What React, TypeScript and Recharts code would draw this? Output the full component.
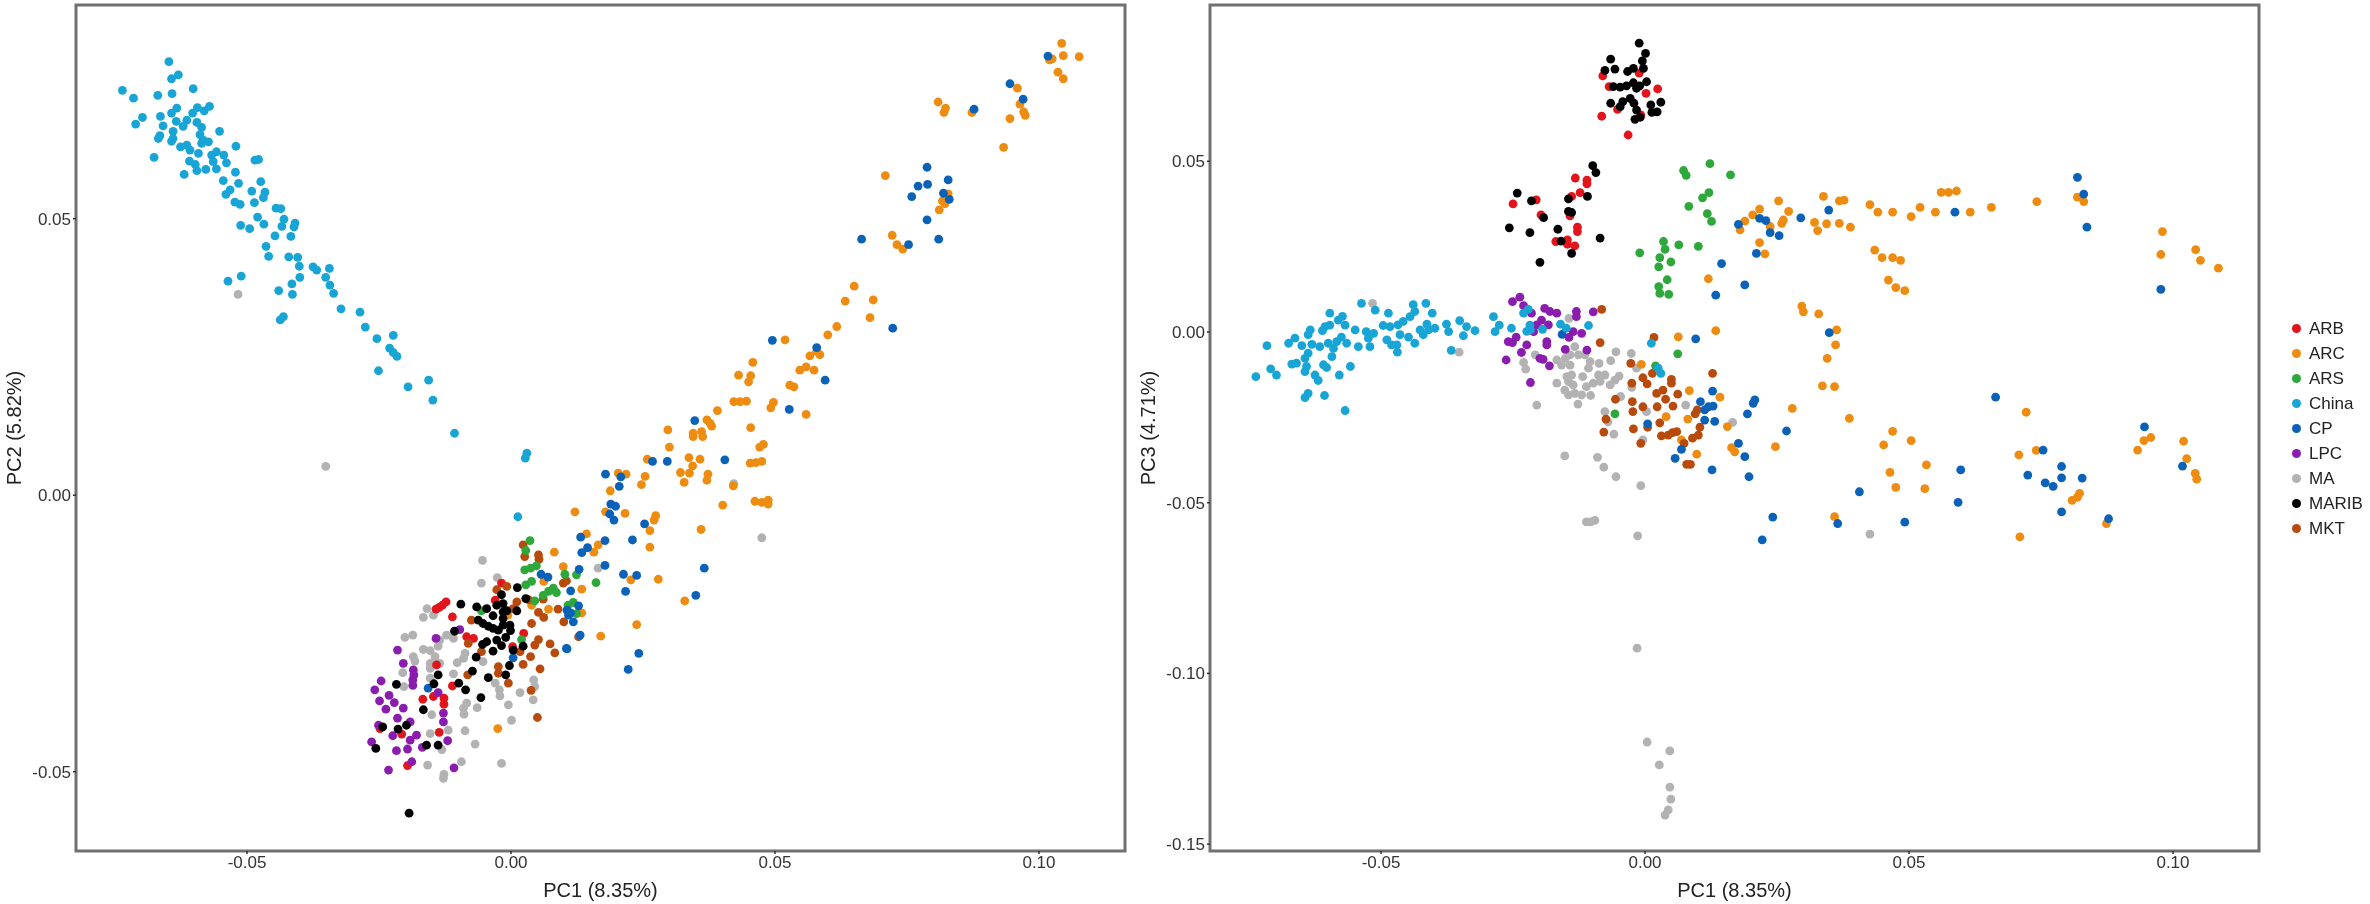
import React from 'react';
import { ScatterChart, Scatter, XAxis, YAxis, ReferenceArea, Legend } from 'recharts';

type P = [number, number];

const groupNames = ['ARB', 'ARC', 'ARS', 'China', 'CP', 'LPC', 'MA', 'MARIB', 'MKT'];
const groupColors: Record<string, string> = {
  ARB: '#e2141c', ARC: '#ee8c12', ARS: '#2ea83a', China: '#18a5d6', CP: '#0a62b8',
  LPC: '#8a1cae', MA: '#b2b2b2', MARIB: '#000000', MKT: '#b84a0c',
};
const drawOrder = ['MA', 'ARB', 'ARC', 'MKT', 'ARS', 'CP', 'LPC', 'China', 'MARIB'];

const xTicks = [-0.05, 0, 0.05, 0.1];
const yTicksLeft = [-0.05, 0, 0.05];
const yTicksRight = [-0.15, -0.1, -0.05, 0, 0.05];

// ---- PC1 vs PC2 ----
const a_China: P[] = [[-.0648,.0784],[-.0630,.0760],[-.0643,.0753],[-.0736,.0732],[-.0715,.0718],[-.0669,.0723],[-.0642,.0726],[-.0602,.0735],[-.0571,.0703],[-.0581,.0695],[-.0594,.0701],[-.0603,.0691],[-.0633,.0700],[-.0643,.0691],[-.0664,.0685],[-.0698,.0683],[-.0711,.0671],[-.0659,.0668],[-.0614,.0678],[-.0634,.0676],[-.0621,.0667],[-.0595,.0674],[-.0586,.0665],[-.0552,.0658],[-.0640,.0658],[-.0589,.0652],[-.0665,.0650],[-.0668,.0645],[-.0640,.0645],[-.0643,.0640],[-.0583,.0642],[-.0573,.0639],[-.0586,.0636],[-.0626,.0630],[-.0521,.0631],[-.0614,.0633],[-.0608,.0624],[-.0592,.0618],[-.0676,.0611],[-.0558,.0621],[-.0567,.0615],[-.0544,.0615],[-.0564,.0603],[-.0539,.0601],[-.0609,.0604],[-.0485,.0606],[-.0478,.0607],[-.0598,.0598],[-.0595,.0587],[-.0578,.0589],[-.0558,.0590],[-.0619,.0580],[-.0522,.0584],[-.0545,.0569],[-.0516,.0564],[-.0474,.0567],[-.0491,.0550],[-.0466,.0548],[-.0532,.0552],[-.0540,.0544],[-.0469,.0538],[-.0486,.0529],[-.0523,.0530],[-.0513,.0526],[-.0445,.0519],[-.0436,.0518],[-.0430,.0499],[-.0480,.0503],[-.0468,.0490],[-.0409,.0492],[-.0512,.0488],[-.0495,.0482],[-.0434,.0486],[-.0411,.0485],[-.0447,.0469],[-.0417,.0468],[-.0464,.0450],[-.0459,.0432],[-.0421,.0431],[-.0404,.0430],[-.0401,.0414],[-.0375,.0413],[-.0368,.0407],[-.0344,.0410],[-.0400,.0394],[-.0351,.0394],[-.0415,.0382],[-.0343,.0380],[-.0336,.0365],[-.0536,.0387],[-.0511,.0396],[-.0440,.0370],[-.0414,.0363],[-.0322,.0337],[-.0286,.0331],[-.0431,.0323],[-.0437,.0317],[-.0276,.0304],[-.0254,.0283],[-.0223,.0289],[-.0230,.0266],[-.0223,.0258],[-.0216,.0251],[-.0251,.0225],[-.0195,.0196],[-.0156,.0208],[-.0148,.0172],[-.0107,.0112],[.0013,-.0039],[.0030,.0076],[.0027,.0067]];
const a_ARC: P[] = [[.0585,.0254],[.0566,.0252],[.0579,.0260],[.0458,.0240],[.0431,.0217],[.0454,.0216],[.0450,.0205],[.0559,.0232],[.0547,.0226],[.0574,.0226],[.0528,.0199],[.0536,.0196],[.0497,.0168],[.0492,.0158],[.0446,.0170],[.0434,.0169],[.0422,.0169],[.0391,.0153],[.0559,.0146],[.0371,.0136],[.0380,.0125],[.0377,.0130],[.0454,.0122],[.0297,.0118],[.0345,.0112],[.0345,.0106],[.0361,.0115],[.0363,.0106],[.0478,.0092],[.0471,.0087],[.0300,.0087],[.0258,.0065],[.0337,.0068],[.0358,.0065],[.0475,.0061],[.0464,.0059],[.0453,.0058],[.0344,.0053],[.0321,.0041],[.0338,.0040],[.0373,.0038],[.0371,.0027],[.0328,.0023],[.0254,.0034],[.0247,.0019],[.0218,.0038],[.0203,.0040],[.0188,.0008],[.0421,.0017],[.0401,-.0018],[.0462,-.0011],[.0475,-.0013],[.0487,-.0009],[.0487,-.0016],[.0121,-.0030],[.0179,-.0030],[.0216,-.0033],[.0274,-.0037],[.0271,-.0045],[.0263,-.0064],[.0360,-.0062],[.0143,-.0070],[.0165,-.0090],[.0157,-.0103],[.0263,-.0094],[.0082,-.0103],[.0099,-.0129],[.0279,-.0152],[.0227,-.0153],[.0134,-.0170],[.0329,-.0191],[.0238,-.0234],[.0170,-.0255],[.0071,-.0206],[.0134,-.0213],[.0519,.0281],
[.1043,.0817],[.1046,.0795],[.1076,.0793],[.1025,.0789],[.1020,.0787],[.1036,.0765],[.1046,.0753],[.0959,.0736],[.0964,.0707],[.0809,.0711],[.0823,.0700],[.0820,.0692],[.0873,.0692],[.0971,.0693],[.0974,.0687],[.0945,.0681],[.0933,.0629],[.0709,.0578],[.0828,.0545],[.0817,.0532],[.0822,.0527],[.0811,.0516],[.0722,.0470],[.0731,.0453],[.0742,.0445],[.0650,.0378],[.0633,.0351],[.0686,.0353],[.0680,.0321],[.0617,.0305],[.0600,.0290],[-.0025,-.0422],[.0039,-.0199],[-.0006,-.0217],[.0062,-.0156]];
const a_CP: P[] = [[.0495,.0280],[.0579,.0267],[.0595,.0208],[.0527,.0155],[.0348,.0135],[.0268,.0061],[.0296,.0061],[.0405,.0064],[.0179,.0038],[.0208,.0033],[.0205,.0016],[.0189,-.0016],[.0198,-.0020],[.0187,-.0034],[.0195,-.0045],[.0253,-.0052],[.0132,-.0076],[.0178,-.0082],[.0230,-.0081],[.0145,-.0095],[.0134,-.0104],[.0178,-.0127],[.0129,-.0134],[.0366,-.0132],[.0213,-.0143],[.0238,-.0145],[.0057,-.0143],[.0070,-.0148],[.0217,-.0174],[.0113,-.0173],[.0350,-.0181],[.0128,-.0200],[.0106,-.0208],[.0113,-.0213],[.0109,-.0217],[.0118,-.0229],[.0131,-.0253],[.0106,-.0278],[.0242,-.0286],
[.1017,.0794],[.0945,.0744],[.0970,.0716],[.0877,.0698],[.0788,.0593],[.0828,.0570],[.0771,.0559],[.0789,.0562],[.0759,.0540],[.0819,.0546],[.0830,.0535],[.0788,.0498],[.0810,.0463],[.0664,.0463],[.0753,.0453],[.0723,.0302],[.0105,-.0277],[.0222,-.0315],[.0004,-.0294],[-.0157,-.0349]];
const a_MARIB: P[] = [[-.0193,-.0575],[-.0256,-.0458],[-.0243,-.0419],[-.0214,-.0423],[-.0198,-.0416],[-.0160,-.0452],[-.0138,-.0452],[-.0166,-.0388],[-.0217,-.0342],[-.0146,-.0341],[-.0138,-.0325],[-.0099,-.0340],[-.0086,-.0352],[-.0057,-.0366],[-.0073,-.0318],[-.0043,-.0330],[-.0066,-.0293],[-.0010,-.0325],[-.0003,-.0308],[-.0034,-.0282],[-.0018,-.0272],[-.0054,-.0270],[-.0046,-.0265],[-.0027,-.0262],[-.0010,-.0257],[.0004,-.0280],[.0023,-.0273],[-.0107,-.0246],[-.0062,-.0226],[-.0053,-.0232],[-.0043,-.0237],[-.0034,-.0241],[-.0024,-.0244],[-.0001,-.0245],[-.0015,-.0235],[-.0002,-.0235],[-.0015,-.0223],[-.0034,-.0218],[-.0015,-.0211],[-.0008,-.0209],[.0011,-.0209],[-.0065,-.0202],[-.0046,-.0205],[-.0027,-.0199],[-.0015,-.0196],[-.0095,-.0197],[-.0018,-.0180],[.0012,-.0167],[.0028,-.0187]];
const a_ARB: P[] = [[-.0123,-.0193],[-.0130,-.0199],[-.0136,-.0203],[-.0142,-.0206],[-.0111,-.0220],[-.0084,-.0256],[-.0071,-.0259],[-.0141,-.0307],[-.0111,-.0345],[-.0167,-.0369],[-.0147,-.0364],[-.0127,-.0367],[-.0127,-.0378],[-.0136,-.0429],[-.0196,-.0489],[-.0207,-.0432],[-.0248,-.0422],[.0024,-.0250],[.0003,-.0274],[-.0030,-.0190],[-.0018,-.0159]];
const a_LPC: P[] = [[-.0215,-.0280],[-.0142,-.0259],[-.0097,-.0243],[-.0204,-.0304],[-.0185,-.0316],[-.0184,-.0325],[-.0186,-.0334],[-.0186,-.0344],[-.0246,-.0336],[-.0258,-.0352],[-.0249,-.0372],[-.0231,-.0362],[-.0221,-.0375],[-.0237,-.0387],[-.0204,-.0385],[-.0215,-.0403],[-.0138,-.0357],[-.0128,-.0394],[-.0128,-.0410],[-.0191,-.0410],[-.0251,-.0416],[-.0224,-.0435],[-.0179,-.0434],[-.0191,-.0443],[-.0196,-.0459],[-.0217,-.0462],[-.0264,-.0446],[-.0168,-.0456],[-.0120,-.0444],[-.0188,-.0482],[-.0232,-.0497],[-.0108,-.0493]];
const a_MA: P[] = [[-.0517,.0363],[-.0351,.0052],[-.0054,-.0118],[-.0026,-.0149],[-.0056,-.0159],[-.0159,-.0205],[-.0166,-.0221],[-.0147,-.0217],[-.0201,-.0257],[-.0186,-.0253],[-.0122,-.0253],[-.0135,-.0262],[-.0109,-.0259],[-.0138,-.0273],[-.0166,-.0279],[-.0153,-.0281],[-.0185,-.0292],[-.0182,-.0300],[-.0144,-.0292],[-.0153,-.0304],[-.0135,-.0304],[-.0153,-.0313],[-.0087,-.0286],[-.0090,-.0295],[-.0102,-.0303],[-.0205,-.0321],[-.0109,-.0323],[-.0153,-.0331],[-.0203,-.0346],[-.0022,-.0352],[-.0021,-.0363],[.0017,-.0357],[.0043,-.0334],[.0045,-.0346],[.0042,-.0370],[-.0005,-.0379],[-.0084,-.0376],[-.0090,-.0385],[-.0089,-.0396],[-.0064,-.0384],[-.0150,-.0397],[.0001,-.0407],[-.0087,-.0426],[-.0153,-.0431],[-.0119,-.0425],[-.0068,-.0450],[-.0131,-.0460],[-.0158,-.0488],[-.0094,-.0482],[-.0018,-.0485],[-.0127,-.0505],[-.0128,-.0512],[.0165,-.0132],[-.0053,-.0301],[-.0030,-.0340],[.0475,-.0077],[.0422,.0021]];
const a_MKT: P[] = [[.0023,-.0090],[.0026,-.0111],[.0052,-.0108],[.0053,-.0116],[.0099,-.0159],[.0105,-.0155],[-.0008,-.0165],[-.0027,-.0171],[.0033,-.0189],[.0061,-.0188],[.0011,-.0193],[.0004,-.0205],[-.0075,-.0226],[.0052,-.0212],[.0062,-.0221],[.0039,-.0232],[.0089,-.0206],[.0100,-.0229],[.0128,-.0256],[.0052,-.0261],[.0045,-.0271],[.0074,-.0269],[-.0081,-.0268],[.0083,-.0285],[.0037,-.0292],[-.0056,-.0283],[.0017,-.0283],[.0023,-.0306],[.0055,-.0314],[-.0024,-.0310],[-.0024,-.0322],[-.0082,-.0325],[-.0005,-.0340],[.0038,-.0353],[.0050,-.0402]];
const a_ARS: P[] = [[.0036,-.0082],[.0028,-.0100],[.0026,-.0135],[.0037,-.0132],[.0048,-.0128],[.0102,-.0143],[.0124,-.0144],[.0161,-.0158],[.0039,-.0156],[.0028,-.0162],[.0080,-.0168],[.0071,-.0174],[.0086,-.0176],[.0061,-.0181],[.0045,-.0191],[.0118,-.0194],[.0108,-.0199],[.0124,-.0214],[.0020,-.0261],[-.0056,-.0209]];

// ---- PC1 vs PC3 ----
const b_China: P[] = [[-.0537,.0084],[-.0511,.0064],[-.0597,.0055],[-.0573,.0046],[-.0581,.0035],[-.0486,.0055],[-.0439,.0080],[-.0415,.0084],[-.0436,.0060],[-.0445,.0045],[-.0403,.0055],[-.0458,.0031],[-.0468,.0021],[-.0496,.0019],[-.0483,.0016],[-.0568,.0020],[-.0549,.0006],[-.0634,.0006],[-.0606,.0016],[-.0611,.0004],[-.0597,.0020],[-.0528,.0001],[-.0514,-.0004],[-.0524,-.0018],[-.0413,.0023],[-.0426,.0006],[-.0410,.0006],[-.0398,.0011],[-.0420,-.0008],[-.0376,.0023],[-.0372,.0001],[-.0351,.0033],[-.0338,.0016],[-.0322,.0004],[-.0344,-.0011],[-.0287,.0045],[-.0276,.0020],[-.0284,.0001],[-.0253,.0011],[-.0367,-.0054],[-.0638,-.0008],[-.0663,-.0018],[-.0675,-.0033],[-.0716,-.0040],[-.0650,-.0040],[-.0631,-.0036],[-.0616,-.0043],[-.0600,-.0033],[-.0584,-.0028],[-.0575,-.0015],[-.0590,-.0048],[-.0565,-.0033],[-.0543,-.0043],[-.0521,-.0043],[-.0489,-.0023],[-.0480,-.0038],[-.0470,-.0038],[-.0464,-.0008],[-.0448,-.0015],[-.0436,-.0033],[-.0469,-.0059],[-.0638,-.0062],[-.0644,-.0077],[-.0669,-.0094],[-.0660,-.0091],[-.0641,-.0101],[-.0644,-.0116],[-.0609,-.0096],[-.0593,-.0072],[-.0603,-.0104],[-.0558,-.0101],[-.0709,-.0108],[-.0698,-.0126],[-.0737,-.0131],[-.0625,-.0126],[-.0619,-.0142],[-.0579,-.0126],[-.0638,-.0180],[-.0644,-.0192],[-.0607,-.0186],[-.0568,-.0230],
[-.0230,.0055],[-.0221,.0066],[-.0218,.0020],[-.0224,.0002],[-.0217,.0006],[-.0194,.0008],[-.0160,.0023],[-.0149,.0011],[-.0107,.0019],[.0012,-.0033],[.0025,-.0106],[.0030,-.0121]];
const b_LPC: P[] = [[-.0251,.0089],[-.0237,.0102],[-.0230,.0077],[-.0215,.0055],[-.0190,.0069],[-.0180,.0060],[-.0167,.0055],[-.0130,.0060],[-.0130,.0045],[-.0098,.0059],[-.0196,.0035],[-.0205,.0021],[-.0183,.0021],[-.0211,.0001],[-.0136,.0001],[-.0120,-.0004],[-.0144,-.0016],[-.0259,-.0028],[-.0251,-.0031],[-.0244,-.0015],[-.0224,-.0038],[-.0186,-.0028],[-.0186,-.0038],[-.0234,-.0060],[-.0151,-.0051],[-.0110,-.0053],[-.0263,-.0082],[-.0199,-.0077],[-.0193,-.0080],[-.0181,-.0099],[-.0217,-.0148]];
const b_MA: P[] = [[-.0516,.0084],[-.0352,-.0059],[-.0144,.0040],[-.0230,-.0089],[-.0226,-.0109],[-.0208,-.0067],[-.0167,-.0082],[-.0158,-.0097],[-.0151,-.0077],[-.0142,-.0067],[-.0133,-.0043],[-.0126,-.0067],[-.0114,-.0067],[-.0142,-.0097],[-.0104,-.0087],[-.0087,-.0092],[-.0107,-.0106],[-.0139,-.0126],[-.0148,-.0131],[-.0118,-.0131],[-.0088,-.0126],[-.0076,-.0126],[-.0167,-.0150],[-.0145,-.0145],[-.0136,-.0155],[-.0111,-.0160],[-.0098,-.0150],[-.0085,-.0145],[-.0152,-.0170],[-.0145,-.0184],[-.0133,-.0180],[-.0120,-.0184],[-.0103,-.0186],[-.0066,-.0155],[-.0057,-.0141],[-.0049,-.0129],[-.0065,-.0084],[-.0055,-.0058],[-.0026,-.0063],[-.0016,-.0106],[-.0205,-.0214],[-.0127,-.0211],[-.0046,-.0189],[-.0025,-.0162],[.0077,-.0214],[-.0076,-.0233],[.0003,-.0233],[-.0070,-.0263],[-.0059,-.0299],[-.0152,-.0363],[-.0090,-.0367],[-.0078,-.0396],[-.0055,-.0424],[-.0008,-.0450],[-.0111,-.0556],[-.0103,-.0556],[-.0095,-.0552],[-.0014,-.0597],[.0166,-.0265],[-.0004,-.0316],[-.0015,-.0926],[.0004,-.1201],[.0047,-.1227],[.0027,-.1268],[.0047,-.1333],[.0049,-.1368],[.0044,-.1400],[.0038,-.1415],[.0426,-.0592]];
const b_MKT: P[] = [[-.0082,.0066],[-.0085,-.0031],[.0017,-.0016],[-.0027,-.0092],[-.0025,-.0150],[-.0004,-.0134],[.0004,-.0152],[.0014,-.0121],[.0050,-.0139],[.0050,-.0150],[.0034,-.0170],[.0022,-.0180],[.0062,-.0182],[.0128,-.0121],[.0039,-.0197],[.0053,-.0217],[-.0056,-.0197],[-.0024,-.0204],[-.0023,-.0233],[-.0004,-.0219],[.0023,-.0219],[-.0074,-.0255],[.0028,-.0266],[-.0078,-.0293],[-.0022,-.0284],[.0005,-.0279],[.0104,-.0279],[.0099,-.0228],[.0095,-.0240],[.0031,-.0304],[.0044,-.0302],[.0052,-.0295],[.0060,-.0292],[.0101,-.0302],[.0090,-.0311],[.0074,-.0326],[-.0008,-.0326],[.0079,-.0388],[.0086,-.0388]];
const b_ARS: P[] = [[.0062,-.0064],[.0020,-.0099],[-.0057,-.0240],[.0123,.0493],[.0073,.0473],[.0078,.0459],[.0162,.0460],[.0121,.0408],[.0109,.0393],[.0083,.0368],[.0118,.0347],[.0126,.0324],[.0035,.0265],[.0038,.0242],[.0064,.0255],[.0101,.0251],[-.0010,.0232],[.0028,.0218],[.0049,.0205],[.0026,.0191],[.0042,.0153],[.0026,.0133],[.0028,.0113],[.0045,.0110]];
const b_ARC: P[] = [[.0297,.0076],[.0300,.0059],[.0329,.0053],[.0134,.0004],[.0063,-.0014],[.0363,.0006],[.0361,-.0038],[.0345,-.0077],[-.0007,-.0095],[.0084,-.0172],[.0336,-.0158],[.0359,-.0160],[.0142,-.0191],[.0279,-.0224],[.0040,-.0248],[.0081,-.0255],[.0156,-.0277],[.0069,-.0316],[.0247,-.0336],[.0164,-.0339],[.0170,-.0351],[.0098,-.0358],[.0359,-.0541],[.0387,-.0253],
[.0253,.0384],[.0217,.0360],[.0204,.0343],[.0272,.0353],[.0189,.0325],[.0262,.0328],[.0259,.0318],[.0237,.0309],[.0180,.0299],[.0217,.0262],[.0227,.0229],[.0120,.0156],[.0338,.0397],[.0368,.0384],[.0321,.0321],[.0344,.0317],[.0327,.0297],[.0368,.0318],
[.0722,-.0235],[.0708,-.0360],[.0741,-.0347],[.0958,-.0309],[.0945,-.0318],[.0933,-.0346],[.1020,-.0320],[.1026,-.0371],[.1042,-.0414],[.1045,-.0431],[.0823,-.0473],[.0819,-.0484],[.0809,-.0493],[.0874,-.0561],[.0710,-.0600],
[.0377,.0386],[.0389,.0307],[.0426,.0373],[.0441,.0351],[.0435,.0240],[.0449,.0218],[.0469,.0218],[.0461,.0152],[.0475,.0130],[.0492,.0121],[.0484,.0210],[.0469,.0351],[.0504,.0338],[.0521,.0365],[.0550,.0351],[.0561,.0409],[.0575,.0409],[.0590,.0413],[.0616,.0351],[.0656,.0365],[.0742,.0382],[.0819,.0395],[.0831,.0382],[.0980,.0294],[.0977,.0227],[.1043,.0241],[.1052,.0210],[.1086,.0187],
[.0469,-.0291],[.0504,-.0318],[.0452,-.0331],[.0464,-.0411],[.0533,-.0389],[.0530,-.0459],[.0475,-.0455]];
const b_CP: P[] = [[.0134,.0108],[.0189,.0138],[.0096,-.0020],[.0349,-.0002],[.0128,-.0173],[.0105,-.0204],[.0129,-.0217],[.0113,-.0228],[.0120,-.0219],[.0113,-.0258],[.0132,-.0262],[.0208,-.0199],[.0205,-.0209],[.0194,-.0240],[.0268,-.0290],[.0005,-.0269],[.0177,-.0326],[.0069,-.0344],[.0057,-.0370],[.0189,-.0365],[.0127,-.0404],[.0197,-.0424],[.0242,-.0542],[.0222,-.0609],[.0365,-.0561],[-.0157,-.0007],
[.0177,.0315],[.0217,.0333],[.0229,.0326],[.0237,.0291],[.0254,.0282],[.0295,.0334],[.0348,.0357],[.0211,.0230],[.0145,.0200],
[.0664,-.0191],[.0946,-.0278],[.0754,-.0346],[.0789,-.0394],[.0598,-.0404],[.0725,-.0419],[.0789,-.0427],[.0828,-.0428],[.0758,-.0442],[.0773,-.0452],[.0789,-.0527],[.0878,-.0547],[.1018,-.0393],
[.0587,.0351],[.0819,.0453],[.0831,.0404],[.0837,.0307],[.0977,.0125],[.0492,-.0557],[.0593,-.0499],[.0406,-.0468]];
const b_MARIB: P[] = [[-.0011,.0846],[.0001,.0816],[-.0005,.0794],[-.0065,.0799],[-.0057,.0770],[-.0076,.0766],[-.0003,.0772],[-.0022,.0772],[-.0033,.0763],[-.0060,.0719],[-.0047,.0717],[-.0035,.0721],[-.0022,.0730],[-.0010,.0721],[.0003,.0733],[-.0016,.0714],[-.0065,.0670],[-.0042,.0675],[-.0047,.0660],[-.0028,.0684],[-.0021,.0670],[-.0016,.0650],[.0030,.0673],[.0013,.0643],[.0023,.0645],[.0011,.0665],[-.0019,.0623],[-.0009,.0629],[-.0099,.0487],[-.0093,.0467],[-.0242,.0407],[-.0215,.0384],[-.0109,.0397],[-.0145,.0390],[-.0145,.0353],[-.0139,.0350],[-.0192,.0335],[-.0257,.0305],[-.0218,.0291],[-.0165,.0301],[-.0085,.0275],[-.0159,.0266],[-.0139,.0230],[-.0199,.0204]];
const b_ARB: P[] = [[-.0080,.0750],[-.0068,.0719],[-.0011,.0758],[.0024,.0712],[.0002,.0699],[-.0052,.0652],[-.0082,.0632],[-.0008,.0636],[-.0032,.0577],[-.0132,.0451],[-.0110,.0445],[-.0110,.0434],[-.0123,.0408],[-.0139,.0397],[-.0206,.0387],[-.0250,.0375],[-.0197,.0343],[-.0142,.0340],[-.0128,.0307],[-.0128,.0294],[-.0169,.0265],[-.0147,.0270],[-.0147,.0257],[-.0133,.0252]];

const leftSeries: Record<string, P[]> = {
  ARB: a_ARB, ARC: a_ARC, ARS: a_ARS, China: a_China, CP: a_CP, LPC: a_LPC, MA: a_MA, MARIB: a_MARIB, MKT: a_MKT,
};
const rightSeries: Record<string, P[]> = {
  ARB: b_ARB, ARC: b_ARC, ARS: b_ARS, China: b_China, CP: b_CP, LPC: b_LPC, MA: b_MA, MARIB: b_MARIB, MKT: b_MKT,
};

const xDomain: [number, number] = [-0.08239, 0.11629];
const yDomainLeft: [number, number] = [-0.06434, 0.08864];
const yDomainRight: [number, number] = [-0.15202, 0.09578];

const FONT = '"Liberation Sans", Arial, sans-serif';
const Dot = (p: any) => <circle cx={p.cx} cy={p.cy} r={4.4} fill={p.fill} />;
const fmt = (v: number) => v.toFixed(2);

const LegendBox = () => (
  <div style={{ position: 'relative', width: 90, height: 225, fontFamily: FONT, fontSize: 17, color: '#222' }}>
    {groupNames.map((n, i) => (
      <div key={n} style={{ position: 'absolute', left: 0, top: i * 25, height: 25, lineHeight: '25px', whiteSpace: 'nowrap' }}>
        <span style={{ position: 'absolute', left: 2, top: 8, width: 9, height: 9, borderRadius: '50%', background: groupColors[n] }} />
        <span style={{ position: 'absolute', left: 19 }}>{n}</span>
      </div>
    ))}
  </div>
);

function Panel(props: {
  width: number; left: number; marginLeft: number; yWidth: number; marginRight: number; labelOffset: number;
  yDomain: [number, number]; yTicks: number[]; yLabel: string; series: Record<string, P[]>; legend?: boolean;
}) {
  const { width, left, marginLeft, yWidth, marginRight, labelOffset, yDomain, yTicks, yLabel, series, legend } = props;
  return (
    <div style={{ position: 'absolute', left, top: 0 }}>
      <ScatterChart width={width} height={904} margin={{ top: 5, right: marginRight, bottom: 13, left: marginLeft }}>
        <XAxis
          type="number" dataKey="x" domain={xDomain} ticks={xTicks} allowDataOverflow tickFormatter={fmt}
          tick={{ fontSize: 17, fill: '#333', fontFamily: FONT }} tickSize={3} tickLine={{ stroke: '#333', strokeWidth: 1.5 }}
          axisLine={false} height={40} interval={0}
          label={{ value: 'PC1 (8.35%)', position: 'bottom', offset: -8, fontSize: 20, fill: '#222', fontFamily: FONT }}
        />
        <YAxis
          type="number" dataKey="y" domain={yDomain} ticks={yTicks} allowDataOverflow tickFormatter={fmt}
          tick={{ fontSize: 17, fill: '#333', fontFamily: FONT }} tickSize={3} tickLine={{ stroke: '#333', strokeWidth: 1.5 }}
          axisLine={false} width={yWidth} interval={0}
          label={{ value: yLabel, angle: -90, position: 'left', offset: labelOffset, fontSize: 20, fill: '#222', fontFamily: FONT, textAnchor: 'middle' }}
        />
        <ReferenceArea x1={xDomain[0]} x2={xDomain[1]} y1={yDomain[0]} y2={yDomain[1]} fill="none" stroke="#707070" strokeWidth={3} ifOverflow="visible" />
        {drawOrder.map((n) => (
          <Scatter key={n} name={n} data={series[n].map(([x, y]) => ({ x, y }))} fill={groupColors[n]} shape={Dot} isAnimationActive={false} />
        ))}
        {legend ? (
          <Legend layout="vertical" align="center" verticalAlign="middle" content={<LegendBox />}
            wrapperStyle={{ left: 1160, top: 316, width: 90, height: 225 }} />
        ) : null}
      </ScatterChart>
    </div>
  );
}

export default function App() {
  return (
    <div style={{ position: 'absolute', left: 0, top: 0, width: 2370, height: 904, background: '#fff', overflow: 'hidden', filter: 'blur(0.6px)' }}>
      <Panel width={1130} left={0} marginLeft={6} yWidth={70} marginRight={5} labelOffset={-8} yDomain={yDomainLeft} yTicks={yTicksLeft} yLabel="PC2 (5.82%)" series={leftSeries} />
      <Panel width={1240} left={1130} marginLeft={16} yWidth={64} marginRight={111} labelOffset={-2} yDomain={yDomainRight} yTicks={yTicksRight} yLabel="PC3 (4.71%)" series={rightSeries} legend />
    </div>
  );
}
